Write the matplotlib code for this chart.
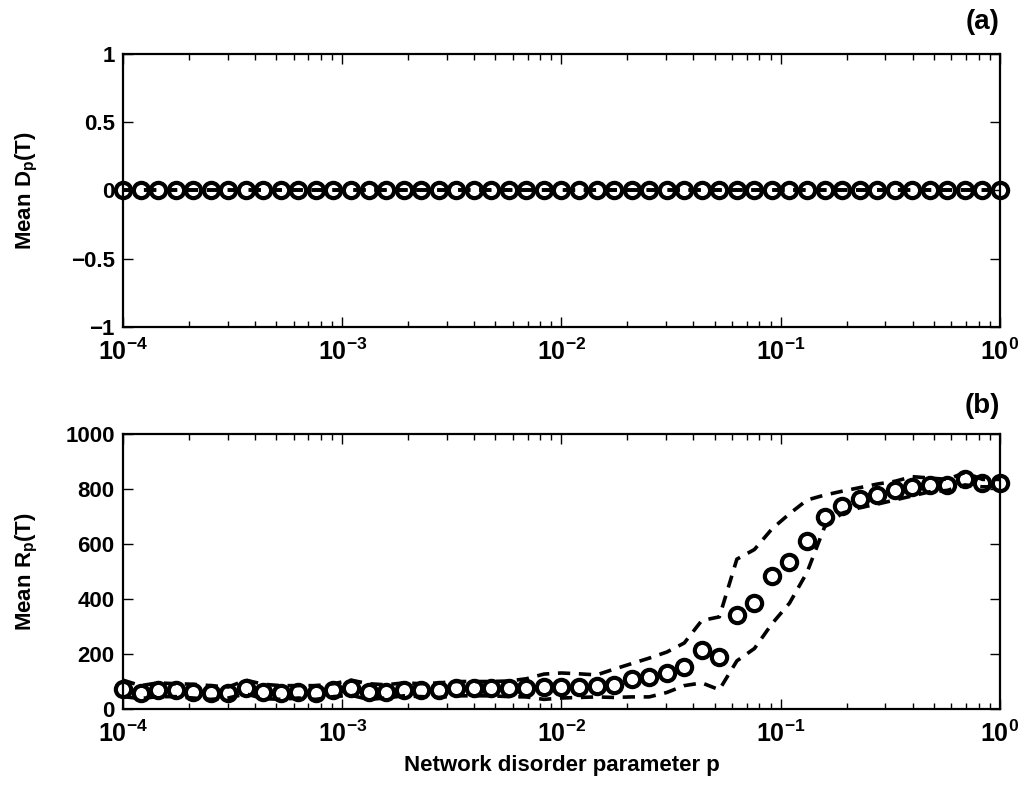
import numpy as np
import matplotlib
matplotlib.use("Agg")
import matplotlib.pyplot as plt
from matplotlib.ticker import LogLocator, FixedLocator, FixedFormatter

# disorder parameter p: 51 log-spaced samples from 1e-4 to 1e0
log_p_start = -4
log_p_step = 0.08
n_points = 51

# panel (a): mean D_p(T) and its band (all zero)
mean_d = [0.0] * n_points
upper_d = [0.0] * n_points
lower_d = [0.0] * n_points

# panel (b): mean R_p(T) with upper / lower dashed bands
mean_r = [72, 60, 68, 68, 63, 58, 58, 78, 62, 58, 62, 58, 68, 78, 62, 62, 70,
          68, 68, 75, 75, 75, 75, 76, 80, 80, 80, 85, 87, 110, 116, 130, 152,
          215, 190, 342, 386, 485, 535, 612, 698, 740, 765, 778, 795, 808, 815,
          815, 838, 822, 822]
upper_r = [105, 85, 95, 92, 90, 85, 80, 105, 90, 85, 85, 85, 92, 105, 92, 88, 95,
           92, 95, 100, 100, 100, 102, 110, 127, 131, 128, 124, 145, 165, 185,
           207, 240, 322, 335, 545, 580, 655, 710, 760, 778, 792, 805, 818, 828,
           845, 840, 835, 860, 835, 835]
lower_r = [45, 38, 45, 45, 40, 35, 40, 55, 38, 35, 40, 35, 45, 50, 35, 40, 48,
           45, 42, 48, 48, 48, 45, 44, 35, 40, 42, 44, 42, 44, 44, 60, 85, 95,
           70, 175, 220, 310, 385, 497, 662, 712, 732, 745, 760, 775, 790, 795,
           815, 808, 808]

x_ticks = [1e-4, 1e-3, 1e-2, 1e-1, 1e0]
x_tick_labels = ["$10^{-4}$", "$10^{-3}$", "$10^{-2}$", "$10^{-1}$", "$10^{0}$"]
y_ticks_a = [-1, -0.5, 0, 0.5, 1]
y_tick_labels_a = ["\u22121", "\u22120.5", "0", "0.5", "1"]
y_ticks_b = [0, 200, 400, 600, 800, 1000]

plt.rcParams["font.family"] = ["Liberation Sans", "DejaVu Sans"]
plt.rcParams["font.weight"] = "bold"
plt.rcParams["mathtext.fontset"] = "custom"
plt.rcParams["mathtext.rm"] = "Liberation Sans:bold"
plt.rcParams["mathtext.it"] = "Liberation Sans:bold"
plt.rcParams["mathtext.bf"] = "Liberation Sans:bold"
plt.rcParams["mathtext.default"] = "rm"


def style_axis(ax):
    ax.set_xscale("log")
    ax.set_xlim(1e-4, 1e0)
    ax.xaxis.set_major_locator(FixedLocator(x_ticks))
    ax.xaxis.set_major_formatter(FixedFormatter(x_tick_labels))
    ax.xaxis.set_minor_locator(LogLocator(base=10, subs=np.arange(2, 10), numticks=20))
    ax.tick_params(which="both", direction="in", top=True, right=True, width=1.0)
    ax.tick_params(axis="x", pad=8, labelsize=18)
    ax.tick_params(axis="y", pad=6, labelsize=16)
    ax.tick_params(which="major", length=7)
    ax.tick_params(which="minor", length=4)
    for spine in ax.spines.values():
        spine.set_linewidth(1.6)


p = 10 ** (log_p_start + log_p_step * np.arange(n_points))

fig = plt.figure(figsize=(10.18, 7.87), dpi=100)
ax_a = fig.add_axes([0.1208, 0.5845, 0.8615, 0.3469])
ax_b = fig.add_axes([0.1208, 0.0991, 0.8615, 0.3494])

dash = dict(color="black", linestyle=(0, (3.4, 2.4)), linewidth=2.6, clip_on=False)
mark = dict(linestyle="none", marker="o", markersize=11, markerfacecolor="none",
            markeredgecolor="black", markeredgewidth=3.0, clip_on=False)

ax_a.plot(p, upper_d, **dash)
ax_a.plot(p, lower_d, **dash)
ax_a.plot(p, mean_d, **mark)
style_axis(ax_a)
ax_a.set_ylim(-1, 1)
ax_a.set_yticks(y_ticks_a)
ax_a.set_yticklabels(y_tick_labels_a)
ax_a.set_ylabel("Mean D$_p$(T)", fontsize=16, fontweight="bold")
ax_a.yaxis.set_label_coords(-0.095, 0.5)

ax_b.plot(p, upper_r, **dash)
ax_b.plot(p, lower_r, **dash)
ax_b.plot(p, mean_r, **mark)
style_axis(ax_b)
ax_b.set_ylim(0, 1000)
ax_b.set_yticks(y_ticks_b)
ax_b.set_ylabel("Mean R$_p$(T)", fontsize=16, fontweight="bold")
ax_b.yaxis.set_label_coords(-0.095, 0.5)
ax_b.set_xlabel("Network disorder parameter p", fontsize=16, fontweight="bold", labelpad=6)

fig.text(0.982, 0.972, "(a)", ha="right", va="center", fontsize=20, fontweight="bold")
fig.text(0.982, 0.484, "(b)", ha="right", va="center", fontsize=20, fontweight="bold")

fig.savefig("out.png", dpi=100)
